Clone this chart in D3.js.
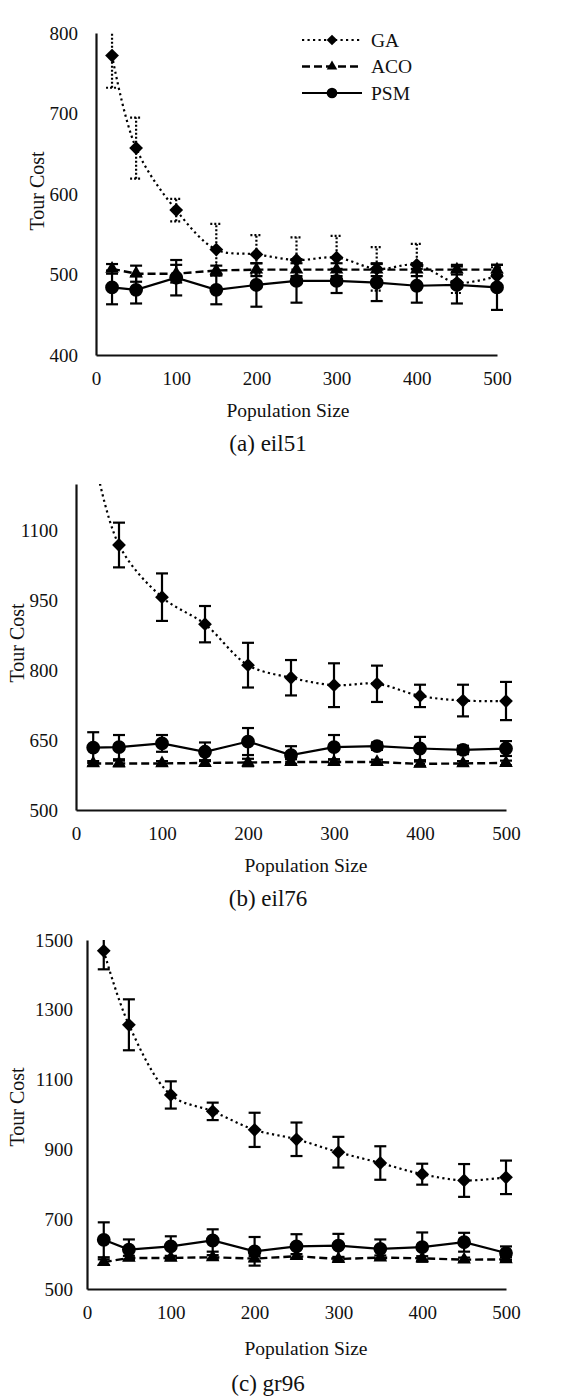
<!DOCTYPE html>
<html>
<head>
<meta charset="utf-8">
<script src="https://cdn.jsdelivr.net/npm/d3@7"></script>
<style>
  body { margin: 0; background: #fff; }
  svg { display: block; font-family: "Liberation Serif", "Times New Roman", serif; }
  .tick text { fill: #111; }
</style>
</head>
<body>
<div id="chart"></div>
<script>
// population sizes on the x axis
var popSizes = [20, 50, 100, 150, 200, 250, 300, 350, 400, 450, 500];
var xTicks = [0, 100, 200, 300, 400, 500];
var seriesNames = ["GA", "ACO", "PSM"];

// (a) eil51
var eil51GA = [772, 657, 580, 531, 525, 518, 521, 507, 512, 490, 498];
var eil51GAErr = [40, 38, 14, 32, 24, 28, 27, 27, 26, 13, 11];
var eil51ACO = [507, 501, 501, 505, 506, 506, 506, 506, 506, 506, 506];
var eil51ACOErr = [6, 10, 11, 6, 8, 8, 8, 8, 8, 6, 6];
var eil51PSM = [484, 481, 496, 481, 487, 492, 492, 490, 486, 487, 484];
var eil51PSMErr = [21, 17, 22, 18, 27, 27, 15, 23, 21, 23, 28];
var eil51Ticks = [400, 500, 600, 700, 800];

// (b) eil76
var eil76GA = [1270, 1069, 957, 899, 811, 784, 768, 771, 745, 735, 734];
var eil76GAErr = [50, 48, 51, 39, 48, 38, 47, 39, 24, 34, 41];
var eil76ACO = [600, 600, 600, 601, 602, 603, 603, 603, 599, 600, 601];
var eil76ACOErr = [5, 6, 5, 6, 8, 6, 5, 5, 5, 5, 5];
var eil76PSM = [634, 635, 643, 625, 647, 618, 635, 637, 632, 629, 632];
var eil76PSMErr = [33, 26, 18, 20, 29, 19, 26, 8, 25, 9, 16];
var eil76Ticks = [500, 650, 800, 950, 1100];

// (c) gr96
var gr96GA = [1469, 1257, 1056, 1009, 956, 929, 892, 861, 829, 811, 820];
var gr96GAErr = [53, 73, 39, 25, 49, 48, 44, 48, 30, 47, 48];
var gr96ACO = [577, 589, 589, 591, 587, 594, 586, 590, 588, 584, 585];
var gr96ACOErr = [8, 6, 6, 6, 7, 6, 6, 6, 6, 6, 6];
var gr96PSM = [641, 613, 622, 639, 608, 622, 624, 615, 620, 634, 603];
var gr96PSMErr = [50, 29, 29, 32, 41, 35, 34, 27, 42, 27, 19];
var gr96Ticks = [500, 700, 900, 1100, 1300, 1500];

var svg = d3.select("#chart")
  .append("svg")
  .attr("width", 580)
  .attr("height", 1399);

// series styles
var styles = {
  GA:  { dash: "2.2,3.3", width: 2.2, cap: "butt", symbol: d3.symbolSquare, size: 95, rotate: 45, smooth: true },
  ACO: { dash: "8,4", width: 2.4, cap: "butt", symbol: d3.symbolTriangle, size: 80, rotate: 0, smooth: false },
  PSM: { dash: null, width: 2.2, cap: "butt", symbol: d3.symbolCircle, size: 150, rotate: 0, smooth: false }
};

function drawPanel(p, idx) {
  var x = d3.scaleLinear().domain([0, 500]).range([p.left, p.right]);
  var y = d3.scaleLinear().domain(p.yDomain).range([p.bottom, p.top]);

  var clipId = "clip" + idx;
  svg.append("clipPath").attr("id", clipId)
    .append("rect")
    .attr("x", p.left - 20).attr("y", p.top)
    .attr("width", p.right - p.left + 40)
    .attr("height", p.bottom - p.top);

  // axes
  var yAxis = d3.axisLeft(y).tickValues(p.yTicks).tickFormat(d3.format("d"))
    .tickSize(0).tickPadding(p.yPad).tickSizeOuter(0);
  var xAxis = d3.axisBottom(x).tickValues(xTicks).tickFormat(d3.format("d"))
    .tickSize(0).tickPadding(17).tickSizeOuter(0);

  var gy = svg.append("g").attr("transform", "translate(" + p.left + ",0)").call(yAxis);
  var gx = svg.append("g").attr("transform", "translate(0," + p.bottom + ")").call(xAxis);
  [gy, gx].forEach(function (g) {
    g.select(".domain").attr("stroke", "#111").attr("stroke-width", 2.2);
    g.selectAll("text").attr("font-size", 19).attr("font-family", "Liberation Serif");
  });

  var plot = svg.append("g").attr("clip-path", "url(#" + clipId + ")");

  // series: draw ACO, PSM, GA order so GA stays visible
  var order = ["ACO", "PSM", "GA"];
  order.forEach(function (name) {
    var st = styles[name];
    var vals = p.series[name];
    var errs = p.errors[name];
    var pts = popSizes.map(function (d, i) { return { x: d, v: vals[i], e: errs[i] }; });

    var line = d3.line()
      .x(function (d) { return x(d.x); })
      .y(function (d) { return y(d.v); })
      .curve(st.smooth ? d3.curveCatmullRom.alpha(0.5) : d3.curveLinear);

    // error bars
    var errDash = (name === "GA" && p.dottedGAErr) ? "2,2" : null;
    var eb = plot.append("g")
      .attr("stroke", "#000")
      .attr("stroke-width", 2.2)
      .attr("stroke-dasharray", errDash);
    pts.forEach(function (d) {
      var cx = x(d.x), y0 = y(d.v - d.e), y1 = y(d.v + d.e);
      eb.append("line").attr("x1", cx).attr("x2", cx).attr("y1", y0).attr("y2", y1);
      eb.append("line").attr("x1", cx - 6).attr("x2", cx + 6).attr("y1", y0).attr("y2", y0);
      eb.append("line").attr("x1", cx - 6).attr("x2", cx + 6).attr("y1", y1).attr("y2", y1);
    });

    plot.append("path")
      .datum(pts)
      .attr("fill", "none")
      .attr("stroke", "#000")
      .attr("stroke-width", st.width)
      .attr("stroke-linecap", st.cap)
      .attr("stroke-dasharray", st.dash)
      .attr("d", line);

    plot.selectAll(".m-" + name)
      .data(pts)
      .enter()
      .append("path")
      .attr("class", "m-" + name)
      .attr("fill", "#000")
      .attr("d", d3.symbol().type(st.symbol).size(st.size))
      .attr("transform", function (d) {
        return "translate(" + x(d.x) + "," + y(d.v) + ") rotate(" + st.rotate + ")";
      });
  });

  // titles
  svg.append("text")
    .attr("transform", "translate(" + p.yTitleX + "," + p.yTitleY + ") rotate(-90)")
    .attr("text-anchor", "middle")
    .attr("dy", "0.35em")
    .attr("font-size", 20)
    .attr("fill", "#111")
    .text("Tour Cost");

  svg.append("text")
    .attr("x", p.xTitleX).attr("y", p.xTitleY)
    .attr("text-anchor", "middle")
    .attr("dy", "0.35em")
    .attr("font-size", 19.5)
    .attr("fill", "#111")
    .text("Population Size");

  svg.append("text")
    .attr("x", 268).attr("y", p.captionY)
    .attr("text-anchor", "middle")
    .attr("dy", "0.35em")
    .attr("font-size", 23)
    .attr("fill", "#111")
    .text(p.caption);
}

var panels = [
  {
    caption: "(a) eil51", left: 96, right: 497, top: 33, bottom: 355,
    yDomain: [400, 800], yTicks: eil51Ticks, yPad: 18, dottedGAErr: true,
    series: { GA: eil51GA, ACO: eil51ACO, PSM: eil51PSM },
    errors: { GA: eil51GAErr, ACO: eil51ACOErr, PSM: eil51PSMErr },
    yTitleX: 37, yTitleY: 191, xTitleX: 288, xTitleY: 410, captionY: 443
  },
  {
    caption: "(b) eil76", left: 76, right: 506, top: 484, bottom: 810,
    yDomain: [500, 1200], yTicks: eil76Ticks, yPad: 18, dottedGAErr: false,
    series: { GA: eil76GA, ACO: eil76ACO, PSM: eil76PSM },
    errors: { GA: eil76GAErr, ACO: eil76ACOErr, PSM: eil76PSMErr },
    yTitleX: 17, yTitleY: 643, xTitleX: 306, xTitleY: 865, captionY: 898
  },
  {
    caption: "(c) gr96", left: 87, right: 506, top: 940, bottom: 1289,
    yDomain: [500, 1500], yTicks: gr96Ticks, yPad: 14, dottedGAErr: false,
    series: { GA: gr96GA, ACO: gr96ACO, PSM: gr96PSM },
    errors: { GA: gr96GAErr, ACO: gr96ACOErr, PSM: gr96PSMErr },
    yTitleX: 17, yTitleY: 1107, xTitleX: 306, xTitleY: 1348, captionY: 1383
  }
];

panels.forEach(drawPanel);

// legend in panel (a)
var legend = svg.append("g").attr("transform", "translate(302,40)");
seriesNames.forEach(function (name, i) {
  var st = styles[name];
  var g = legend.append("g").attr("transform", "translate(0," + (i * 26.5) + ")");
  g.append("line")
    .attr("x1", 0).attr("x2", 60).attr("y1", 0).attr("y2", 0)
    .attr("stroke", "#000")
    .attr("stroke-width", st.width)
    .attr("stroke-linecap", st.cap)
    .attr("stroke-dasharray", st.dash);
  g.append("path")
    .attr("fill", "#000")
    .attr("d", d3.symbol().type(st.symbol).size(st.size * 0.6))
    .attr("transform", "translate(30,0) rotate(" + st.rotate + ")");
  g.append("text")
    .attr("x", 69).attr("dy", "0.35em")
    .attr("font-size", 19.5)
    .attr("fill", "#111")
    .text(name);
});
</script>
</body>
</html>
